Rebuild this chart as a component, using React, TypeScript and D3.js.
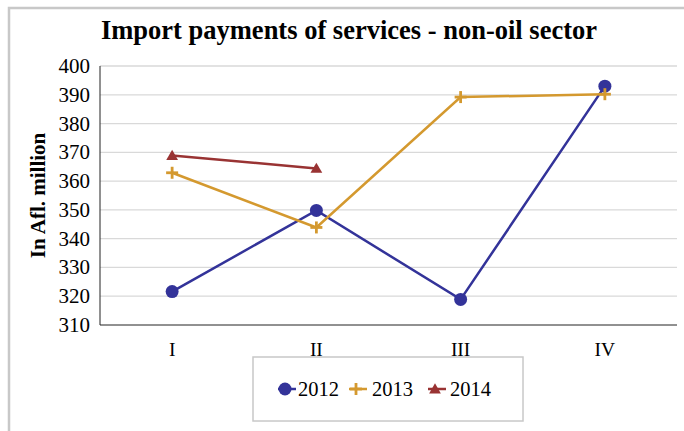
import * as d3 from 'd3'

const quarters = ['I', 'II', 'III', 'IV']
const years = ['2012', '2013', '2014']
const values2012 = [321.6, 349.8, 318.9, 393]
const values2013 = [362.9, 343.9, 389.2, 390.2]
const values2014 = [368.9, 364.4]
const yTicks = [310, 320, 330, 340, 350, 360, 370, 380, 390, 400]

const colors = ['#333399', '#d4992f', '#993333']
const font = 'Liberation Serif, Times New Roman, serif'

const W = 684
const H = 431
const left = 100
const right = 677
const top = 66
const bottom = 325

function Marker({ kind, x, y, color }: { kind: number; x: number; y: number; color: string }) {
  if (kind === 0) return <circle cx={x} cy={y} r={6.5} fill={color} />
  if (kind === 1)
    return (
      <g stroke={color} strokeWidth={2.8}>
        <line x1={x - 6} x2={x + 6} y1={y} y2={y} />
        <line x1={x} x2={x} y1={y - 6} y2={y + 6} />
      </g>
    )
  return <path d={d3.symbol(d3.symbolTriangle, 60)() ?? ''} transform={`translate(${x},${y + 1})`} fill={color} />
}

export default function App() {
  const x = d3.scalePoint<string>().domain(quarters).range([left, right]).padding(0.5)
  const y = d3.scaleLinear().domain([310, 400]).range([bottom, top])
  const series = [values2012, values2013, values2014]
  const line = d3
    .line<number>()
    .x((_, i) => x(quarters[i]) ?? 0)
    .y(d => y(d))

  const legendItems = [
    { sx: 287, tx: 298 },
    { sx: 358, tx: 372 },
    { sx: 437, tx: 450 },
  ]

  return (
    <svg width={W} height={H} style={{ position: 'absolute', left: 0, top: 0, fontFamily: font }}>
      <rect x={0} y={0} width={W} height={H} fill="#fff" />
      <rect x={9} y={8} width={W + 20} height={H + 20} fill="none" stroke="#c8c8c8" strokeWidth={2.5} />
      <text x={349} y={39} textAnchor="middle" fontSize={26.5} fontWeight="bold" style={{ fontFamily: font }}>
        Import payments of services - non-oil sector
      </text>
      {yTicks.map(t => (
        <g key={t}>
          {t > 310 && <line x1={left} x2={right} y1={y(t)} y2={y(t)} stroke="#d9d9d9" strokeWidth={1.3} />}
          <text x={90} y={y(t) + 7} textAnchor="end" fontSize={21} style={{ fontFamily: font }}>
            {t}
          </text>
        </g>
      ))}
      <line x1={left} x2={left} y1={top} y2={bottom} stroke="#222" />
      <line x1={left} x2={right} y1={bottom} y2={bottom} stroke="#222" />
      {quarters.map(q => (
        <text key={q} x={x(q)} y={356} textAnchor="middle" fontSize={19.5} style={{ fontFamily: font }}>
          {q}
        </text>
      ))}
      <text
        transform={`translate(45,${(top + bottom) / 2}) rotate(-90)`}
        textAnchor="middle"
        fontSize={21}
        fontWeight="bold"
        style={{ fontFamily: font }}
      >
        In Afl. million
      </text>
      {series.map((s, k) => (
        <g key={years[k]}>
          <path d={line(s) ?? ''} fill="none" stroke={colors[k]} strokeWidth={2.5} />
          {s.map((v, i) => (
            <Marker key={i} kind={k} x={x(quarters[i]) ?? 0} y={y(v)} color={colors[k]} />
          ))}
        </g>
      ))}
      <rect x={253} y={357} width={270} height={64} fill="#fff" stroke="#c8c8c8" strokeWidth={1.5} />
      {years.map((yr, k) => (
        <g key={yr}>
          <line x1={legendItems[k].sx - 9} x2={legendItems[k].sx + 9} y1={389} y2={389} stroke={colors[k]} strokeWidth={2.5} />
          <Marker kind={k} x={legendItems[k].sx - 2} y={389} color={colors[k]} />
          <text x={legendItems[k].tx} y={396} fontSize={20.5} style={{ fontFamily: font }}>
            {yr}
          </text>
        </g>
      ))}
    </svg>
  )
}
